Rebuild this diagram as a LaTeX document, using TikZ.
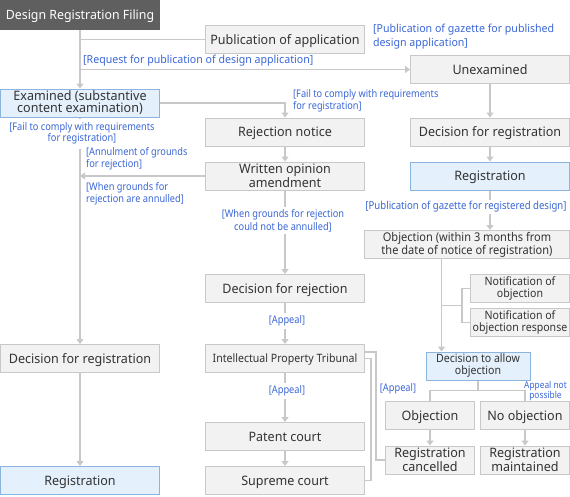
\documentclass[tikz,border=0pt]{standalone}
\usepackage{fontspec}
\setmainfont{Noto Sans}[FakeStretch=0.965]
\newfontfamily\cndfam[FakeStretch=0.88]{Noto Sans}
\newfontfamily\smfam[FakeStretch=0.92]{Noto Sans}
\usetikzlibrary{arrows.meta}
\definecolor{bordc}{HTML}{C8C8C8}
\definecolor{fillc}{HTML}{F2F2F2}
\definecolor{txtc}{HTML}{333333}
\definecolor{bbord}{HTML}{8DB4DF}
\definecolor{bfill}{HTML}{E4F0FC}
\definecolor{linec}{HTML}{C8C8C8}
\definecolor{bluec}{HTML}{3A66D6}
\definecolor{darkc}{HTML}{5F5F5F}
\newcommand\bxf{\fontsize{13pt}{12pt}\selectfont}
\newcommand\smf{\smfam\fontsize{11.5pt}{12pt}\selectfont}
\newcommand\obf{\smfam\fontsize{12pt}{13pt}\selectfont}
\newcommand\tlf{\fontsize{11pt}{14pt}\selectfont}
\newcommand\clf{\cndfam\fontsize{10.5pt}{11.5pt}\selectfont}
\begin{document}
\begin{tikzpicture}[x=1pt,y=-1pt,
  gbox/.style={draw=bordc,fill=fillc,line width=1pt,inner sep=0pt,align=center,text=txtc,font=\bxf,minimum height=28pt},
  bbox/.style={gbox,draw=bbord,fill=bfill},
  one/.style={text height=9.3pt,text depth=0pt},
  onesm/.style={text height=8.2pt,text depth=0pt},
  dbox/.style={fill=darkc,text=white,inner sep=0pt,font=\fontsize{12.8pt}{13pt}\selectfont,minimum height=30pt,minimum width=160pt,text height=9.1pt,text depth=0pt},
  ln/.style={draw=linec,line width=1.3pt},
  arr/.style={ln,-{Triangle[width=7pt,length=5pt]}},
  tlbl/.style={text=bluec,font=\tlf,inner sep=0pt,align=left},
  clbl/.style={text=bluec,font=\clf,inner sep=0pt,align=left},
  wide/.style={minimum width=159pt},
  mid/.style={minimum width=89pt},
]
\useasboundingbox (0,0) rectangle (570,496);
% nodes
\node[dbox] (fil) at (80,15) {Design Registration Filing};
\node[gbox,wide,one] (pub) at (285,39.5) {Publication of application};
\node[gbox,wide,one] (unex) at (490,69.5) {Unexamined};
\node[bbox,wide] (exam) at (80,103) {Examined (substantive\\content examination)};
\node[gbox,wide,one] (rejn) at (285,132) {Rejection notice};
\node[gbox,wide,one] (decr) at (490,132) {Decision for registration};
\node[bbox,wide,one] (regr) at (490,176) {Registration};
\node[gbox,wide] (writ) at (285,176) {Written opinion\\amendment};
\node[gbox,wide,one] (decl) at (80,358.5) {Decision for registration};
\node[bbox,wide,one] (regl) at (80,480.5) {Registration};
\node[gbox,wide,one] (drej) at (285,288.5) {Decision for rejection};
\node[gbox,minimum width=205pt,font=\obf] (objx) at (467,244.5) {Objection (within 3 months from\\the date of notice of registration)};
\node[gbox,minimum width=99pt,font=\smf] (nt1) at (520,288.5) {Notification of\\objection};
\node[gbox,minimum width=99pt,font=\smf] (nt2) at (520,322.5) {Notification of\\objection response};
\node[bbox,minimum width=104pt,font=\smf] (allw) at (478,366) {Decision to allow\\objection};
\node[gbox,wide,font=\smf,onesm] (ipt) at (285,358.5) {Intellectual Property Tribunal};
\node[gbox,wide,one] (pat) at (285,436.5) {Patent court};
\node[gbox,wide,one] (sup) at (285,480.5) {Supreme court};
\node[gbox,mid,one] (objs) at (430,415.5) {Objection};
\node[gbox,mid,one] (noob) at (525,415.5) {No objection};
\node[gbox,mid] (canc) at (430,460) {Registration\\cancelled};
\node[gbox,mid] (mnt) at (525,460) {Registration\\maintained};
% connectors
\draw[arr] (fil) -- (exam);
\draw[ln] (fil.south |- pub.west) -- (pub.west);
\draw[arr] (fil.south |- unex.west) -- (unex.west);
\draw[arr] (exam.east) -| (rejn.north);
\draw[arr] (exam) -- (decl);
\draw[arr] (decl) -- (regl);
\draw[arr] (unex) -- (decr);
\draw[arr] (decr) -- (regr);
\draw[arr] (rejn) -- (writ);
\draw[arr] (writ.west) -- (writ.west -| exam.south);
\draw[arr] (writ) -- (drej);
\draw[arr] (drej) -- (ipt);
\draw[arr] (ipt) -- (pat);
\draw[arr] (pat) -- (sup);
\draw[arr] (regr.south) -- (regr.south |- objx.north);
\coordinate (ob) at (441.5,259);
\draw[arr] (ob) -- (ob |- allw.north);
\draw[ln] (ob |- 0,305.5) -- (462,305.5);
\draw[ln] (nt1.west) -- ++(-8,0) |- (nt2.west);
\draw[ln] (allw.south) -- ++(0,10) coordinate (ab);
\draw[ln] (objs.north) |- (ab) -| (noob.north);
\draw[arr] (objs) -- (canc);
\draw[arr] (noob) -- (mnt);
\draw[ln] ([yshift=6.5pt]ipt.east) -- ++(11,0) |- (canc.west);
\draw[ln] (ipt.east) -- ++(6,0) |- (sup.east);
% labels
\node[tlbl,anchor=west] (lreq) at (83,61) {[Request for publication of design application]};
\node[tlbl,anchor=west] (lpg) at (373,37) {[Publication of gazette for published\\design application]};
\node[clbl,anchor=west] (lf1) at (293,101) {[Fail to comply with requirements\\for registration]};
\node[clbl,align=center,fill=white,inner ysep=4pt] (lf2) at (82,133.5) {[Fail to comply with requirements\\for registration]};
\node[clbl,anchor=west] (lann) at (86,158.5) {[Annulment of grounds\\for rejection]};
\node[clbl,anchor=west] (lwh) at (86,193.5) {[When grounds for\\rejection are annulled]};
\node[clbl,align=center,fill=white,inner ysep=2pt,font=\cndfam\fontsize{10.5pt}{13pt}\selectfont] (lnot) at (283,220.5) {[When grounds for rejection\\could not be annulled]};
\node[clbl,fill=white,inner ysep=2pt,font=\cndfam\fontsize{10.9pt}{12pt}\selectfont] (lgaz) at (466,207) {[Publication of gazette for registered design]};
\node[clbl,fill=white,inner ysep=3pt] (lap1) at (287,321) {[Appeal]};
\node[clbl,fill=white,inner ysep=3pt] (lap2) at (287,391) {[Appeal]};
\node[clbl] (lap3) at (398,389) {[Appeal]};
\node[clbl,align=center,font=\cndfam\fontsize{9.5pt}{10pt}\selectfont] (lnp) at (545.5,391) {Appeal not\\possible};
\end{tikzpicture}
\end{document}
